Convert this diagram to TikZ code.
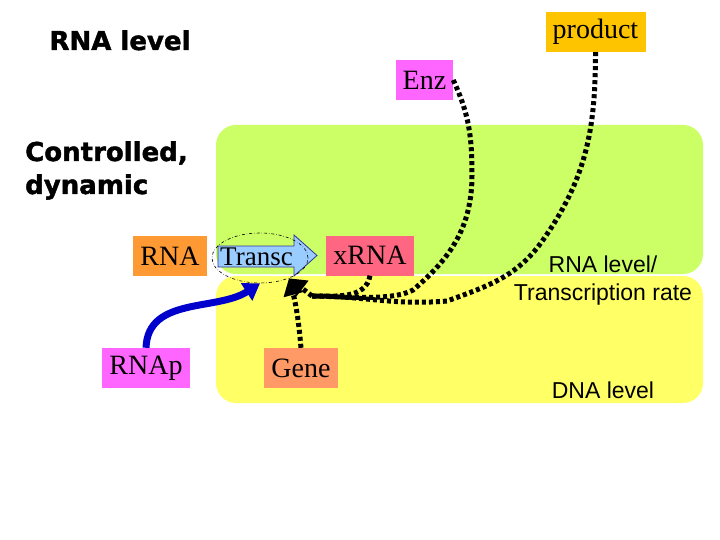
\documentclass[tikz,border=0pt]{standalone}
\usepackage{fontspec}
\setmainfont{Liberation Serif}
\newfontfamily\heavysans{DejaVu Sans}[BoldFeatures={FakeBold=1.6}]
\newfontfamily\arialfont{Liberation Sans}
\usetikzlibrary{arrows.meta,shapes.geometric}
\definecolor{bggreen}{RGB}{204,255,102}
\definecolor{bgyellow}{RGB}{255,255,102}
\definecolor{cgold}{RGB}{255,196,0}
\definecolor{cmagenta}{RGB}{255,102,255}
\definecolor{corange}{RGB}{255,153,51}
\definecolor{cpink}{RGB}{255,102,130}
\definecolor{csalmon}{RGB}{255,153,102}
\definecolor{cblue}{RGB}{0,0,204}
\definecolor{carrowfill}{RGB}{153,204,255}
\definecolor{carrowline}{RGB}{51,51,153}
\begin{document}
\begin{tikzpicture}[x=1pt,y=1pt,
  box/.style={inner sep=0pt, minimum height=40pt, font=\fontsize{28}{30}\selectfont},
  panel/.style={rounded corners=20pt},
  dotline/.style={line width=5pt, dash pattern=on 4pt off 3pt, black},
  dottip/.style={dotline, -{Triangle[length=17pt,width=19pt]}},
  bluearrow/.style={line width=7pt, cblue, -{Triangle[length=16pt,width=20pt]}},
  heading/.style={font=\heavysans\bfseries\fontsize{26}{33}\selectfont, inner sep=0pt},
  plain/.style={font=\arialfont\fontsize{23}{28}\selectfont, inner sep=0pt}
]
\useasboundingbox (0,0) rectangle (720,-540);
\fill[white] (0,0) rectangle (720,-540);

% background panels
\fill[bggreen, panel] (216,-125) rectangle (703,-274);
\fill[bgyellow, panel] (216,-276) rectangle (703,-403);

% headings
\node[heading, anchor=base] (hrna) at (120,-50) {RNA level};
\node[heading, anchor=base west, align=left] (hctrl) at (25,-194) {Controlled,\\dynamic};

% side labels
\node[plain, anchor=base] (lrna) at (603,-272) {RNA level/};
\node[plain, anchor=base] (ltr) at (603,-300) {Transcription rate};
\node[plain, anchor=base] (ldna) at (603,-398) {DNA level};

% boxes
\node[box, fill=cgold, minimum width=100pt] (product) at (595.5,-32) {product};
\node[box, fill=cmagenta, minimum width=57pt] (Enz) at (424.5,-80) {Enz};
\node[box, fill=corange, minimum width=74pt] (RNA) at (170,-256) {RNA};
\node[box, fill=cpink, minimum width=88pt] (xRNA) at (370,-255.5) {xRNA};
\node[box, fill=cmagenta, minimum width=88pt] (RNAp) at (146,-368) {RNAp};
\node[box, fill=csalmon, minimum width=74pt] (Gene) at (301,-368) {Gene};

% Transc arrow
\filldraw[fill=carrowfill, draw=carrowline, line width=0.8pt]
  (218,-246) -- (294,-246) -- (294,-235) -- (317,-255.5) -- (294,-276) -- (294,-267) -- (218,-267) -- cycle;
\node[anchor=base, inner sep=0pt, font=\fontsize{27}{30}\selectfont] (transc) at (256.5,-265) {Transc};
\node[ellipse, draw, dash dot, line width=0.6pt, inner sep=0pt, minimum width=96pt, minimum height=50pt] (tr) at (260,-258) {};

% waypoints
\coordinate (j) at (312,-296);
\coordinate (e1) at (472,-175);
\coordinate (e2) at (413,-290);
\coordinate (p1) at (543,-240);
\coordinate (p2) at (447,-301);

% dotted connectors
\draw[dotline] (product.south) to[out=-90,in=55] (p1) to[out=-125,in=20] (p2) to[out=-175,in=0] (j);
\draw[dotline] (Enz.east) to[out=-65,in=90] (e1) to[out=-90,in=40] (e2) to[out=-150,in=0,looseness=0.6] (j);
\draw[dotline] (xRNA.south) to[out=-100,in=0] (j);
\draw[dottip] (j) -- (tr.-35);
\draw[dottip] (Gene.north) to[out=95,in=-75] (tr.-35);

% blue arrow
\draw[bluearrow] (RNAp.north) to[out=88,in=213] (tr.south);
\end{tikzpicture}
\end{document}
